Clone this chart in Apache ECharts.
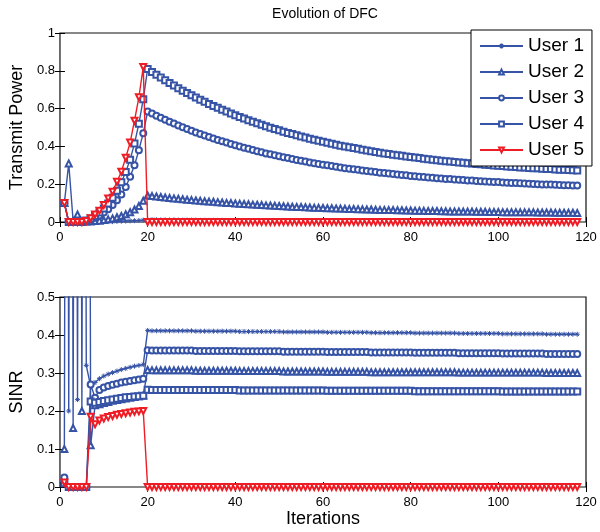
<!DOCTYPE html>
<html>
<head>
<meta charset="utf-8">
<script src="https://cdn.jsdelivr.net/npm/echarts@6/dist/echarts.min.js"></script>
<style>html,body{margin:0;padding:0;background:#fff;}#chart{width:600px;height:532px;}</style>
</head>
<body>
<div id="chart"></div>
<script>
// Legend names
var userNames = ['User 1', 'User 2', 'User 3', 'User 4', 'User 5'];
var xTicks = [0, 20, 40, 60, 80, 100, 120];

// Transmit power per iteration (iterations 1..118)
var powerUser1 = [0.1,0,0,0,0,0,0,0,0.001,0.001,0.002,0.002,0.003,0.004,0.005,0.006,0.007,0.008,0.01,
0.012,0.012,0.012,0.011,0.011,0.011,0.011,0.010,0.010,0.010,
0.010,0.010,0.009,0.009,0.009,0.009,0.009,0.009,0.008,0.008,
0.008,0.008,0.008,0.008,0.008,0.008,0.007,0.007,0.007,0.007,
0.007,0.007,0.007,0.007,0.007,0.006,0.006,0.006,0.006,0.006,
0.006,0.006,0.006,0.006,0.006,0.005,0.005,0.005,0.005,0.005,
0.005,0.005,0.005,0.005,0.005,0.005,0.005,0.005,0.005,0.005,
0.005,0.005,0.005,0.005,0.005,0.005,0.005,0.005,0.005,0.005,
0.004,0.004,0.004,0.004,0.004,0.004,0.004,0.004,0.004,0.004,
0.004,0.004,0.004,0.004,0.004,0.004,0.004,0.004,0.004,0.004,
0.004,0.004,0.004,0.004,0.004,0.004,0.004,0.004,0.004];
var powerUser2 = [0.1,0.31,0.005,0.04,0.003,0.002,0.003,0.005,0.007,0.01,0.014,0.019,0.025,0.032,0.041,0.052,0.066,0.085,0.112,
0.140,0.137,0.135,0.132,0.130,0.127,0.125,0.123,0.120,0.118,
0.116,0.114,0.112,0.110,0.108,0.107,0.105,0.103,0.101,0.100,
0.098,0.097,0.095,0.094,0.092,0.091,0.090,0.088,0.087,0.086,
0.085,0.083,0.082,0.081,0.080,0.079,0.078,0.077,0.076,0.075,
0.074,0.073,0.073,0.072,0.071,0.070,0.069,0.069,0.068,0.067,
0.066,0.066,0.065,0.064,0.064,0.063,0.063,0.062,0.062,0.061,
0.061,0.060,0.060,0.059,0.058,0.058,0.058,0.057,0.057,0.056,
0.056,0.056,0.055,0.055,0.055,0.054,0.054,0.054,0.053,0.053,
0.053,0.052,0.052,0.052,0.052,0.051,0.051,0.051,0.051,0.050,
0.050,0.050,0.050,0.049,0.049,0.049,0.049,0.049,0.048];
var powerUser3 = [0.1,0,0,0,0,0.005,0.012,0.022,0.035,0.05,0.068,0.09,0.115,0.145,0.185,0.24,0.30,0.38,0.47,
0.585,0.574,0.562,0.551,0.541,0.531,0.521,0.511,0.501,0.492,
0.483,0.474,0.466,0.458,0.450,0.442,0.434,0.427,0.420,0.413,
0.406,0.399,0.393,0.387,0.381,0.375,0.369,0.363,0.358,0.353,
0.348,0.343,0.338,0.333,0.328,0.324,0.320,0.315,0.311,0.307,
0.303,0.300,0.296,0.292,0.289,0.285,0.282,0.279,0.276,0.273,
0.270,0.267,0.264,0.261,0.259,0.256,0.254,0.251,0.249,0.247,
0.244,0.242,0.240,0.238,0.236,0.234,0.232,0.230,0.228,0.227,
0.225,0.223,0.222,0.220,0.219,0.217,0.216,0.214,0.213,0.212,
0.211,0.209,0.208,0.207,0.206,0.205,0.204,0.202,0.201,0.200,
0.199,0.199,0.198,0.197,0.196,0.195,0.194,0.193,0.193];
var powerUser4 = [0.1,0,0,0,0,0.008,0.018,0.032,0.05,0.072,0.098,0.128,0.165,0.21,0.265,0.33,0.415,0.52,0.65,
0.810,0.794,0.779,0.764,0.750,0.735,0.722,0.708,0.695,0.683,
0.671,0.659,0.647,0.636,0.625,0.614,0.604,0.594,0.584,0.574,
0.565,0.556,0.547,0.539,0.530,0.522,0.514,0.507,0.499,0.492,
0.485,0.478,0.471,0.465,0.459,0.452,0.447,0.441,0.435,0.430,
0.424,0.419,0.414,0.409,0.404,0.400,0.395,0.391,0.387,0.382,
0.378,0.374,0.371,0.367,0.363,0.360,0.356,0.353,0.350,0.347,
0.344,0.341,0.338,0.335,0.332,0.330,0.327,0.324,0.322,0.320,
0.317,0.315,0.313,0.311,0.309,0.307,0.305,0.303,0.301,0.299,
0.297,0.296,0.294,0.292,0.291,0.289,0.288,0.286,0.285,0.284,
0.282,0.281,0.280,0.278,0.277,0.276,0.275,0.274,0.273];
var powerUser5 = [0.1,0,0,0,0,0.005,0.02,0.04,0.06,0.09,0.125,0.16,0.213,0.266,0.34,0.42,0.536,0.66,0.82,
0,0,0,0,0,0,0,0,0,0,
0,0,0,0,0,0,0,0,0,0,
0,0,0,0,0,0,0,0,0,0,
0,0,0,0,0,0,0,0,0,0,
0,0,0,0,0,0,0,0,0,0,
0,0,0,0,0,0,0,0,0,0,
0,0,0,0,0,0,0,0,0,0,
0,0,0,0,0,0,0,0,0,0,
0,0,0,0,0,0,0,0,0,0,
0,0,0,0,0,0,0,0,0];

// SINR per iteration (iterations 1..118); values above 0.5 run off the plot
var sinrUser1 = [5,0.2,5,0.23,5,0.32,0.265,0.275,0.285,0.292,0.297,0.301,0.305,0.309,0.312,0.315,0.318,0.320,0.322,
0.412,
0.411,0.411,0.411,0.411,0.411,0.411,0.411,0.411,0.411,0.411,
0.410,0.410,0.410,0.410,0.410,0.410,0.410,0.410,0.410,0.410,
0.409,0.409,0.409,0.409,0.409,0.409,0.409,0.409,0.409,0.409,
0.408,0.408,0.408,0.408,0.408,0.408,0.408,0.408,0.408,0.408,
0.407,0.407,0.407,0.407,0.407,0.407,0.407,0.407,0.407,0.407,
0.406,0.406,0.406,0.406,0.406,0.406,0.406,0.406,0.406,0.406,
0.405,0.405,0.405,0.405,0.405,0.405,0.405,0.405,0.405,0.405,
0.404,0.404,0.404,0.404,0.404,0.404,0.404,0.404,0.404,0.404,
0.403,0.403,0.403,0.403,0.403,0.403,0.403,0.403,0.403,0.403,
0.402,0.402,0.402,0.402,0.402,0.402,0.402,0.402];
var sinrUser2 = [0.1,5,0.155,5,0.2,5,0.11,0.215,0.218,0.221,0.224,0.227,0.229,0.231,0.233,0.235,0.237,0.239,0.241,
0.308,
0.307,0.307,0.307,0.307,0.307,0.307,0.307,0.307,0.307,0.307,
0.306,0.306,0.306,0.306,0.306,0.306,0.306,0.306,0.306,0.306,
0.305,0.305,0.305,0.305,0.305,0.305,0.305,0.305,0.305,0.305,
0.304,0.304,0.304,0.304,0.304,0.304,0.304,0.304,0.304,0.304,
0.303,0.303,0.303,0.303,0.303,0.303,0.303,0.303,0.303,0.303,
0.302,0.302,0.302,0.302,0.302,0.302,0.302,0.302,0.302,0.302,
0.302,0.302,0.302,0.302,0.302,0.302,0.302,0.302,0.302,0.302,
0.301,0.301,0.301,0.301,0.301,0.301,0.301,0.301,0.301,0.301,
0.301,0.301,0.301,0.301,0.301,0.301,0.301,0.301,0.301,0.301,
0.300,0.300,0.300,0.300,0.300,0.300,0.300,0.300];
var sinrUser3 = [0.025,0,0,0,0,0,0.27,0.235,0.255,0.262,0.266,0.269,0.272,0.275,0.277,0.279,0.281,0.283,0.285,
0.360,
0.359,0.359,0.359,0.359,0.359,0.359,0.359,0.359,0.359,0.359,
0.358,0.358,0.358,0.358,0.358,0.358,0.358,0.358,0.358,0.358,
0.357,0.357,0.357,0.357,0.357,0.357,0.357,0.357,0.357,0.357,
0.356,0.356,0.356,0.356,0.356,0.356,0.356,0.356,0.356,0.356,
0.355,0.355,0.355,0.355,0.355,0.355,0.355,0.355,0.355,0.355,
0.354,0.354,0.354,0.354,0.354,0.354,0.354,0.354,0.354,0.354,
0.353,0.353,0.353,0.353,0.353,0.353,0.353,0.353,0.353,0.353,
0.352,0.352,0.352,0.352,0.352,0.352,0.352,0.352,0.352,0.352,
0.351,0.351,0.351,0.351,0.351,0.351,0.351,0.351,0.351,0.351,
0.350,0.350,0.350,0.350,0.350,0.350,0.350,0.350];
var sinrUser4 = [0.01,0,0,0,0,0,0.225,0.222,0.224,0.226,0.228,0.23,0.232,0.234,0.236,0.237,0.238,0.239,0.24,
0.256,
0.255,0.255,0.255,0.255,0.255,0.255,0.255,0.255,0.255,0.255,
0.255,0.255,0.255,0.255,0.255,0.255,0.255,0.255,0.255,0.255,
0.254,0.254,0.254,0.254,0.254,0.254,0.254,0.254,0.254,0.254,
0.254,0.254,0.254,0.254,0.254,0.254,0.254,0.254,0.254,0.254,
0.253,0.253,0.253,0.253,0.253,0.253,0.253,0.253,0.253,0.253,
0.253,0.253,0.253,0.253,0.253,0.253,0.253,0.253,0.253,0.253,
0.252,0.252,0.252,0.252,0.252,0.252,0.252,0.252,0.252,0.252,
0.252,0.252,0.252,0.252,0.252,0.252,0.252,0.252,0.252,0.252,
0.251,0.251,0.251,0.251,0.251,0.251,0.251,0.251,0.251,0.251,
0.251,0.251,0.251,0.251,0.251,0.251,0.251,0.251];
var sinrUser5 = [0.012,0,0,0,0,0,0.185,0.165,0.175,0.18,0.184,0.187,0.19,0.192,0.194,0.196,0.198,0.199,0.2,
0,0,0,0,0,0,0,0,0,0,
0,0,0,0,0,0,0,0,0,0,
0,0,0,0,0,0,0,0,0,0,
0,0,0,0,0,0,0,0,0,0,
0,0,0,0,0,0,0,0,0,0,
0,0,0,0,0,0,0,0,0,0,
0,0,0,0,0,0,0,0,0,0,
0,0,0,0,0,0,0,0,0,0,
0,0,0,0,0,0,0,0,0,0,
0,0,0,0,0,0,0,0,0];

var BLUE = '#3653a6', RED = '#ee1c25';
var FONT = '"Liberation Sans", Arial, Helvetica, sans-serif';
var asterisk = 'path://M5,0L5,10M0,5L10,5M1.6,1.6L8.4,8.4M1.6,8.4L8.4,1.6';
var symbols = [asterisk, 'emptyTriangle', 'emptyCircle', 'emptyRect', 'emptyTriangle'];
var rotates = [0, 0, 0, 0, 180];
var colors = [BLUE, BLUE, BLUE, BLUE, RED];
var powerSets = [powerUser1, powerUser2, powerUser3, powerUser4, powerUser5];
var sinrSets = [sinrUser1, sinrUser2, sinrUser3, sinrUser4, sinrUser5];

function toPairs(arr) { return arr.map(function (v, i) { return [i + 1, v]; }); }

function makeSeries(sets, axisIdx) {
  return sets.map(function (vals, k) {
    return {
      name: userNames[k], type: 'line', xAxisIndex: axisIdx, yAxisIndex: axisIdx,
      data: toPairs(vals), symbol: symbols[k], symbolRotate: rotates[k],
      symbolSize: k === 0 ? 5 : 6, clip: true, animation: false,
      lineStyle: { color: colors[k], width: 1.4 },
      itemStyle: { color: colors[k], borderColor: colors[k], borderWidth: 1 },
      z: k === 4 ? 5 : 3
    };
  });
}

function xAx(grid, showLabels, pos, name) {
  return {
    type: 'value', gridIndex: grid, position: pos, min: xTicks[0], max: xTicks[xTicks.length - 1], interval: 20,
    axisLine: { show: false },
    axisTick: { show: true, inside: true, length: 5, lineStyle: { color: '#000', width: 1 } },
    axisLabel: { show: showLabels, color: '#000', fontSize: 13, fontFamily: FONT, margin: 9 },
    splitLine: { show: false },
    name: name || '', nameLocation: 'middle', nameGap: 23,
    nameTextStyle: { color: '#000', fontSize: 18, fontFamily: FONT }
  };
}
function yAx(grid, showLabels, pos, max, interval, name) {
  return {
    type: 'value', gridIndex: grid, position: pos, min: 0, max: max, interval: interval,
    axisLine: { show: false },
    axisTick: { show: true, inside: true, length: 5, lineStyle: { color: '#000', width: 1 } },
    axisLabel: { show: showLabels, color: '#000', fontSize: 13, fontFamily: FONT, margin: 5 },
    splitLine: { show: false },
    name: name || '', nameLocation: 'middle', nameGap: 29, nameRotate: 90,
    nameTextStyle: { color: '#000', fontSize: 18, fontFamily: FONT }
  };
}

var chart = echarts.init(document.getElementById('chart'), null, { renderer: 'canvas' });
chart.setOption({
  backgroundColor: '#fff',
  animation: false,
  title: { text: 'Evolution of DFC', left: 320, top: 2, textAlign: 'center',
    textStyle: { fontSize: 14, fontWeight: 'normal', color: '#000', fontFamily: FONT } },
  legend: {
    data: userNames, orient: 'vertical', left: 471, top: 30,
    itemWidth: 43, itemHeight: 6, itemGap: 6,
    padding: [6, 8, 6, 8],
    backgroundColor: '#fff', borderColor: '#000', borderWidth: 1, z: 10,
    textStyle: { fontSize: 19, color: '#000', fontFamily: FONT, lineHeight: 20 }
  },
  grid: [
    { left: 57, right: 14, top: 33, height: 189, show: true, borderColor: '#111', borderWidth: 1.2, backgroundColor: 'transparent' },
    { left: 57, right: 14, top: 297, height: 190, show: true, borderColor: '#111', borderWidth: 1.2, backgroundColor: 'transparent' }
  ],
  xAxis: [xAx(0, true, 'bottom'), xAx(1, true, 'bottom', 'Iterations'), xAx(0, false, 'top'), xAx(1, false, 'top')],
  yAxis: [yAx(0, true, 'left', 1, 0.2, 'Transmit Power'), yAx(1, true, 'left', 0.5, 0.1, 'SINR'),
          yAx(0, false, 'right', 1, 0.2), yAx(1, false, 'right', 0.5, 0.1)],
  series: makeSeries(powerSets, 0).concat(makeSeries(sinrSets, 1))
});
</script>
</body>
</html>
